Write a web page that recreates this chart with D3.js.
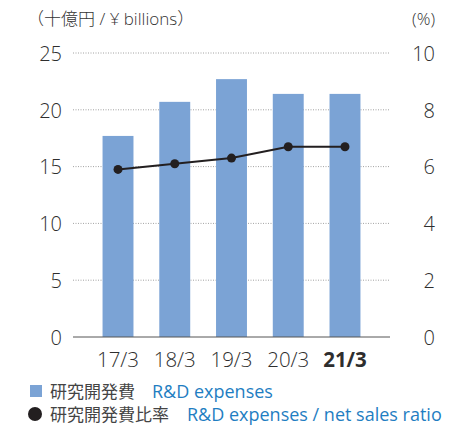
<!DOCTYPE html>
<html>
<head>
<meta charset="utf-8">
<script src="https://d3js.org/d3.v7.min.js"></script>
<style>
  body { margin: 0; background: #fff; }
  text { font-family: "Open Sans", "Noto Sans CJK JP", sans-serif; }
</style>
</head>
<body>
<div id="chart"></div>
<script>
// data
var years = ["17/3", "18/3", "19/3", "20/3", "21/3"];
var expenses = [17.7, 20.7, 22.7, 21.4, 21.4];
var ratio = [5.9, 6.1, 6.3, 6.7, 6.7];
var leftTicks = [0, 5, 10, 15, 20, 25];
var rightTicks = [0, 2, 4, 6, 8, 10];

var W = 474, H = 427;
var plot = {left: 73, right: 390, top: 53, bottom: 337};

var svg = d3.select("#chart").append("svg")
    .attr("width", W)
    .attr("height", H);

var x = d3.scaleBand().domain(years).range([89.5, 373.5]).paddingInner(0.455).paddingOuter(0.23);
var y = d3.scaleLinear().domain([0, 25]).range([plot.bottom, plot.top]);
var y2 = d3.scaleLinear().domain([0, 10]).range([plot.bottom, plot.top]);

// gridlines
svg.append("g")
  .selectAll("line")
  .data(leftTicks.filter(function(d) { return d > 0; }))
  .enter().append("line")
    .attr("x1", plot.left).attr("x2", plot.right)
    .attr("y1", function(d) { return y(d); })
    .attr("y2", function(d) { return y(d); })
    .attr("stroke", "#8a8a8a")
    .attr("stroke-width", 0.8)
    .attr("stroke-dasharray", "1,1.5");

// bars
svg.append("g")
  .selectAll("rect")
  .data(expenses)
  .enter().append("rect")
    .attr("x", function(d, i) { return x(years[i]); })
    .attr("width", x.bandwidth())
    .attr("y", function(d) { return y(d); })
    .attr("height", function(d) { return y(0) - y(d); })
    .attr("fill", "#7ba3d5");

// baseline
svg.append("line")
  .attr("x1", plot.left).attr("x2", plot.right)
  .attr("y1", y(0)).attr("y2", y(0))
  .attr("stroke", "#555").attr("stroke-width", 1);

// left axis
var leftAxis = d3.axisLeft(y).tickValues(leftTicks).tickSize(0).tickPadding(0);
svg.append("g")
  .attr("transform", "translate(62,0)")
  .call(leftAxis)
  .call(function(g) {
    g.select(".domain").remove();
    g.selectAll("text").attr("font-size", 20).attr("fill", "#2e2e2e").attr("font-weight", 300).attr("dy", "0.36em");
  });

// right axis
var rightAxis = d3.axisLeft(y2).tickValues(rightTicks).tickSize(0).tickPadding(0);
svg.append("g")
  .attr("transform", "translate(435,0)")
  .call(rightAxis)
  .call(function(g) {
    g.select(".domain").remove();
    g.selectAll("text").attr("font-size", 20).attr("fill", "#2e2e2e").attr("font-weight", 300).attr("dy", "0.36em");
  });

// x axis labels
var xAxis = d3.axisBottom(x).tickSize(0).tickPadding(0);
svg.append("g")
  .attr("transform", "translate(0," + (plot.bottom + 15) + ")")
  .call(xAxis)
  .call(function(g) {
    g.select(".domain").remove();
    g.selectAll("text")
      .attr("font-size", 20.5)
      .attr("fill", "#2e2e2e")
      .attr("font-weight", function(d) { return d == "21/3" ? 700 : 300; })
      .attr("dy", "0.71em");
  });

// ratio line
var line = d3.line()
  .x(function(d, i) { return x(years[i]) + x.bandwidth() / 2; })
  .y(function(d) { return y2(d); });

svg.append("path")
  .datum(ratio)
  .attr("d", line)
  .attr("fill", "none")
  .attr("stroke", "#231f20")
  .attr("stroke-width", 2);

svg.append("g")
  .selectAll("circle")
  .data(ratio)
  .enter().append("circle")
    .attr("cx", function(d, i) { return x(years[i]) + x.bandwidth() / 2; })
    .attr("cy", function(d) { return y2(d); })
    .attr("r", 4.5)
    .attr("fill", "#231f20");

// unit labels
svg.append("text")
  .attr("x", 27).attr("y", 25)
  .attr("font-size", 17).attr("fill", "#333").attr("font-weight", 300)
  .text("（十億円 / ¥ billions）");

svg.append("text")
  .attr("x", 435).attr("y", 25)
  .attr("text-anchor", "end")
  .attr("font-size", 17).attr("fill", "#333").attr("font-weight", 300)
  .text("(%)");

// legend
svg.append("rect")
  .attr("x", 30).attr("y", 385).attr("width", 12).attr("height", 12)
  .attr("fill", "#7ba3d5");
svg.append("text")
  .attr("x", 50).attr("y", 398)
  .attr("font-size", 17).attr("fill", "#444")
  .text("研究開発費");
svg.append("text")
  .attr("x", 152).attr("y", 398)
  .attr("font-size", 18).attr("fill", "#1f7ec2")
  .text("R&D expenses");

svg.append("circle")
  .attr("cx", 35).attr("cy", 414).attr("r", 7)
  .attr("fill", "#231f20");
svg.append("text")
  .attr("x", 50).attr("y", 421)
  .attr("font-size", 17).attr("fill", "#444")
  .text("研究開発費比率");
svg.append("text")
  .attr("x", 187).attr("y", 421)
  .attr("font-size", 18).attr("fill", "#1f7ec2")
  .text("R&D expenses / net sales ratio");
</script>
</body>
</html>
